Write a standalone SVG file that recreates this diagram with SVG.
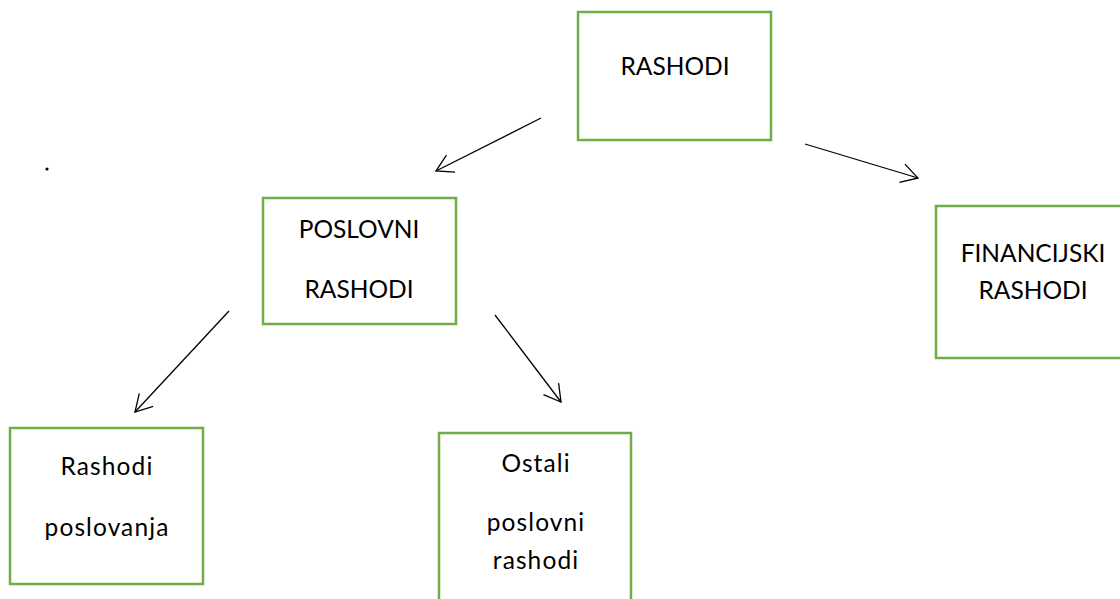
<svg xmlns="http://www.w3.org/2000/svg" width="1120" height="599" viewBox="0 0 1120 599">
<style>
.box{fill:#fff;stroke:#70AD47;stroke-width:2.5}
.t{font-family:Lato,"Open Sans","Liberation Sans",sans-serif;font-size:24.5px;fill:#000;text-anchor:middle}
.l{letter-spacing:1.1px}
.c{stroke:#000;stroke-width:1.3;fill:none}
</style>
<defs>
<marker id="ah" markerUnits="userSpaceOnUse" markerWidth="20" markerHeight="22" refX="17" refY="10.5" orient="auto">
<path d="M0.5,1 L17,10.5 L0.5,20" fill="none" stroke="#000" stroke-width="1.3"/>
</marker>
</defs>
<rect width="1120" height="599" fill="#fff"/>
<circle cx="47" cy="169" r="1.6" fill="#000"/>
<g id="connectors">
<line class="c" x1="541" y1="118" x2="436" y2="171" marker-end="url(#ah)"/>
<line class="c" x1="805" y1="144" x2="918" y2="178" marker-end="url(#ah)"/>
<line class="c" x1="229" y1="311" x2="135" y2="412" marker-end="url(#ah)"/>
<line class="c" x1="495" y1="315" x2="561" y2="402" marker-end="url(#ah)"/>
</g>
<g id="rashodi">
<rect class="box" x="578" y="12" width="193" height="128"/>
<text class="t" x="675" y="75">RASHODI</text>
</g>
<g id="poslovni">
<rect class="box" x="263" y="198" width="193" height="126"/>
<text class="t" x="359" y="238">POSLOVNI</text>
<text class="t" x="359" y="298">RASHODI</text>
</g>
<g id="financijski">
<rect class="box" x="936" y="206" width="194" height="152"/>
<text class="t" x="1033" y="262">FINANCIJSKI</text>
<text class="t" x="1033" y="299">RASHODI</text>
</g>
<g id="rashodi-poslovanja">
<rect class="box" x="10" y="428" width="193" height="156"/>
<text class="t l" x="107" y="475">Rashodi</text>
<text class="t l" x="107" y="536">poslovanja</text>
</g>
<g id="ostali">
<rect class="box" x="439" y="433" width="192" height="180"/>
<text class="t l" x="536" y="472">Ostali</text>
<text class="t l" x="536" y="531">poslovni</text>
<text class="t l" x="536" y="569">rashodi</text>
</g>
</svg>
